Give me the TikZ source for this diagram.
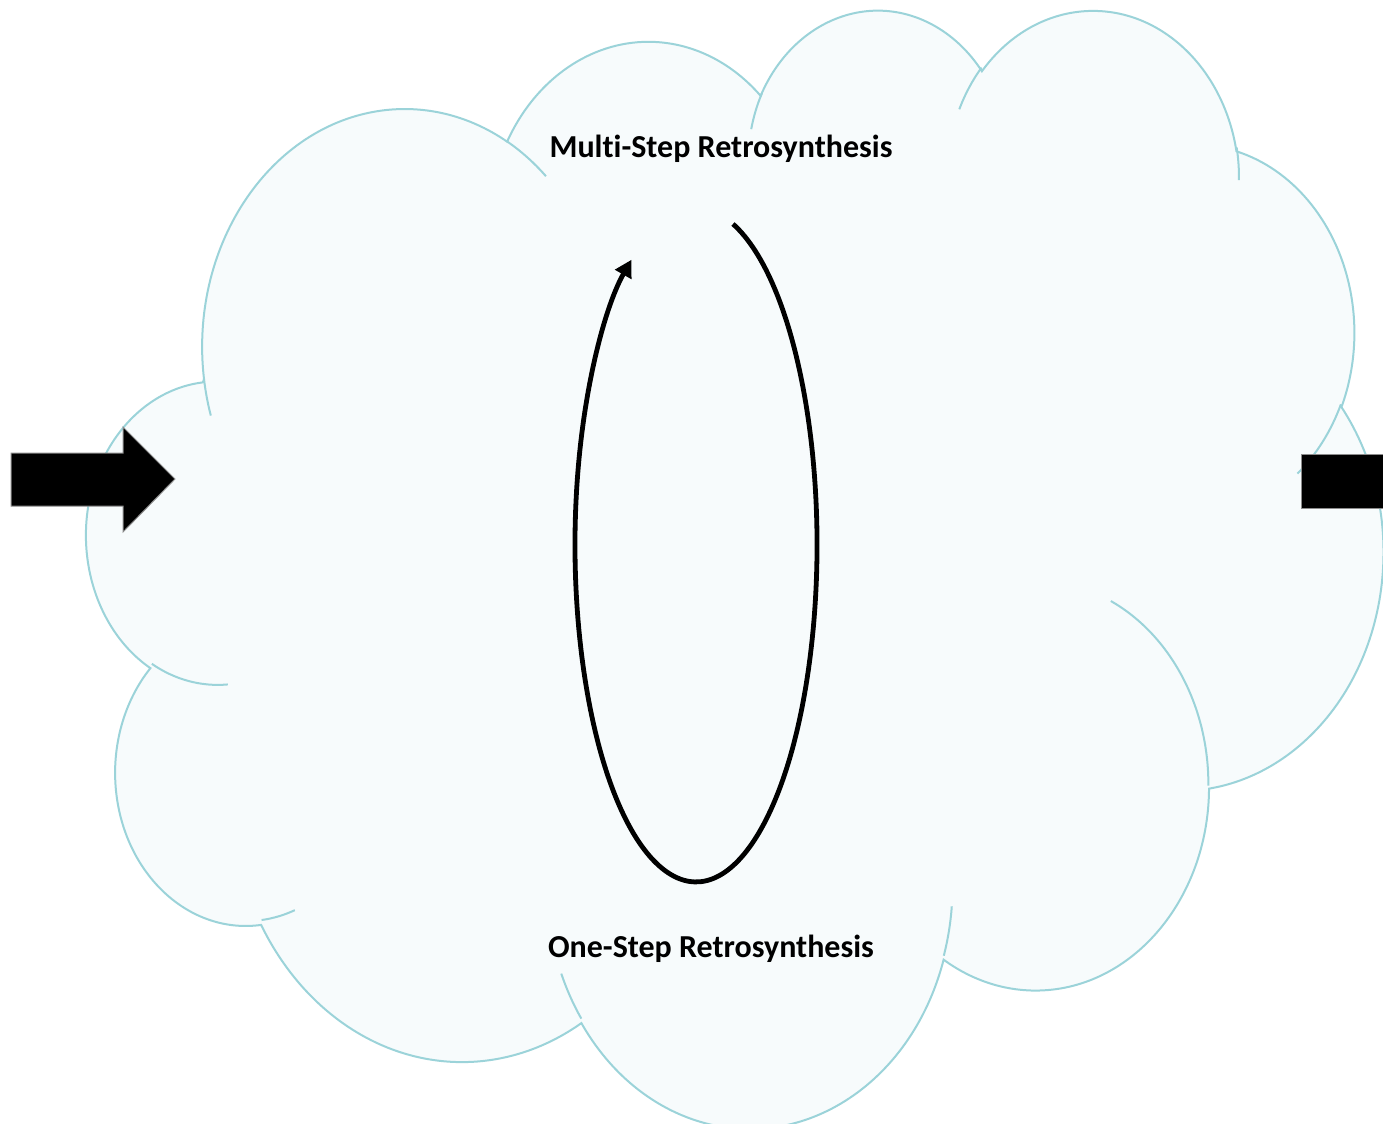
\documentclass[tikz,border=0pt]{standalone}
\usepackage{fontspec}
\setmainfont{Carlito}[Ligatures=NoCommon]
\usetikzlibrary{arrows.meta}
\definecolor{cloudedge}{RGB}{155,211,217}
\definecolor{cloudfill}{RGB}{247,251,252}
\tikzset{
  % elliptical arc given by radii and a start/sweep angle measured
  % as the direction seen from the centre (converted to parametric angles)
  ooarc/.code n args={4}{%
    \pgfmathsetmacro\oots{atan2((#1)*sin(#3),(#2)*cos(#3))}%
    \pgfmathsetmacro\oote{atan2((#1)*sin((#3)+(#4)),(#2)*cos((#3)+(#4)))}%
    \pgfmathsetmacro\oodt{mod(\oote-\oots+720,360)}%
    \edef\ooargs{x radius=#1,y radius=#2,start angle=\oots,delta angle=\oodt}%
    \expandafter\pgfkeysalso\expandafter{\ooargs}},
  cloudline/.style={draw=cloudedge, line width=1pt},
  blockarrow/.style={fill=black, draw=black!45, line width=0.5pt},
  titletext/.style={font=\bfseries\fontsize{16}{19}\selectfont, inner sep=0pt},
  cyclearrow/.style={draw=black, line width=2.4pt,
    -{Triangle[length=8.5pt,width=9pt]}}
}
\begin{document}
\begin{tikzpicture}[x=0.5pt, y=-0.5pt]
\useasboundingbox (0,0) rectangle (1383,1124);

% cloud body
\begin{scope}[shift={(87,7)}, x=0.15pt, y=-0.129398pt]
\path[cloudline, fill=cloudfill] (390,1437)
  arc[ooarc={675.3}{919.0}{-190.48748}{123.78053}]
  arc[ooarc={533.3}{726.7}{-144.10238}{89.94523}]
  arc[ooarc={436.5}{594.5}{-145.80792}{99.72302}]
  arc[ooarc={485.7}{659.5}{-130.98607}{117.24173}]
  arc[ooarc={533.3}{727.3}{-78.70888}{109.02692}]
  arc[ooarc={677.5}{922.0}{-46.26725}{130.269}]
  arc[ooarc={578.5}{786.7}{0.62502}{114.03333}]
  arc[ooarc={675.2}{921.5}{22.4516}{115.17255}]
  arc[ooarc={772.0}{1054.3}{66.24263}{75.71102}]
  arc[ooarc={436.0}{591.8}{-274.94208}{146.73557}]
  arc[ooarc={434.5}{594.5}{-246.8285}{152.51885}]
  -- cycle;
% inner puff lines
\path[cloudline]
  (469.3,2617.7) arc[ooarc={434.5}{594.5}{86.742}{26.4295}]
  (692.8,3489.9) arc[ooarc={436.0}{591.8}{73.61047}{11.44747}]
  (1647.8,3909.0) arc[ooarc={675.2}{921.5}{137.62415}{14.0811}]
  (2882.7,3475.1) arc[ooarc={675.2}{921.5}{6.45327}{15.99835}]
  (3412.9,2295.4) arc[ooarc={578.5}{786.7}{-70.29235}{70.91737}]
  (4179.8,1535.4) arc[ooarc={533.3}{727.3}{30.31803}{27.7515}]
  (3832.4,542.6) arc[ooarc={485.7}{659.5}{-13.74433}{14.85045}]
  (2907.8,395.2) arc[ooarc={485.7}{659.5}{-149.18145}{18.197}]
  (2214.1,472.0) arc[ooarc={436.5}{594.5}{-163.49427}{17.69183}]
  (1400.0,519.2) arc[ooarc={675.3}{919.0}{-66.70695}{12.31935}]
  (412.7,1578.9) arc[ooarc={675.3}{919.0}{157.65435}{11.85817}];
\end{scope}

% block arrows in and out
\path[blockarrow] (11,453) -- (123,453) -- (123,427) -- (175,479)
  -- (123,532) -- (123,506) -- (11,506) -- cycle;
\path[blockarrow] (1301,454) rectangle (1392,508);

% labels
\node[titletext] (multi) at (721,149) {Multi-Step Retrosynthesis};
\node[titletext] (one) at (711,949) {One-Step Retrosynthesis};

% iteration loop
\coordinate (loopstart) at (733,224);
\draw[cyclearrow] (loopstart)
  arc[start angle=-72.2, delta angle=310, x radius=121, y radius=337];
\end{tikzpicture}
\end{document}
